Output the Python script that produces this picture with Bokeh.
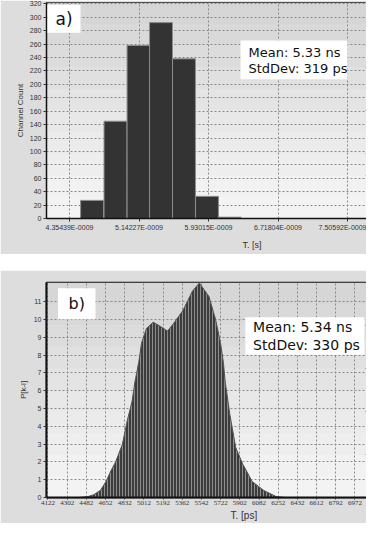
from bokeh.plotting import figure
from bokeh.layouts import column
from bokeh.models import FixedTicker, Label, BoxAnnotation, Title
from bokeh.embed import file_html
from bokeh.resources import INLINE

# ---------------- data: panel a) histogram ----------------
bin_centers_ns = [4.610, 4.876, 5.137, 5.392, 5.652, 5.913, 6.168]
bin_counts = [27, 145, 258, 292, 238, 33, 2]
bin_width_ns = 0.26
top_tick_values = [4.35439, 5.14227, 5.93015, 6.71804, 7.50592]
top_tick_labels = ["4.35439E-0009", "5.14227E-0009", "5.93015E-0009",
                   "6.71804E-0009", "7.50592E-0009"]
top_y_ticks = [0, 20, 40, 60, 80, 100, 120, 140, 160, 180, 200, 220, 240,
               260, 280, 300, 320]
top_stats = ["Mean:  5.33 ns", "StdDev: 319 ps"]

# ---------------- data: panel b) distribution ----------------
curve_t_ps = [4412, 4492, 4545, 4608, 4661, 4706, 4750, 4813, 4857, 4902,
              4929, 4964, 4991, 5036, 5098, 5169, 5231, 5284, 5373, 5463,
              5526, 5615, 5677, 5722, 5749, 5766, 5811, 5864, 5927, 6016,
              6123, 6239, 6328]
curve_p = [0.0, 0.05, 0.15, 0.4, 0.9, 1.5, 2.0, 3.0, 4.3, 5.4,
           6.5, 7.6, 8.7, 9.5, 9.85, 9.6, 9.35, 9.75, 10.5, 11.6,
           12.05, 11.3, 10.0, 8.7, 7.6, 6.5, 4.6, 2.8, 1.9, 0.9,
           0.4, 0.05, 0.0]
bottom_tick_values = [4122, 4300, 4478, 4656, 4834, 5012, 5190, 5368, 5546,
                      5724, 5902, 6080, 6258, 6436, 6614, 6792, 6970]
bottom_tick_labels = ["4122", "4302", "4482", "4652", "4832", "5012", "5192",
                      "5362", "5542", "5722", "5902", "6082", "6252", "6432",
                      "6612", "6792", "6972"]
bottom_y_ticks = [0, 1, 2, 3, 4, 5, 6, 7, 8, 9, 10, 11]
bottom_stats = ["Mean:  5.34 ns", "StdDev: 330 ps"]

OUTER = "#dddddd"
GRAD = ["#d6d6d6", "#d9d9d9", "#dcdcdc", "#e0e0e0", "#e4e4e4", "#e8e8e8",
        "#ebebeb", "#eeeeee", "#f1f1f1", "#f3f3f3"]


def gradient(p, ymin, ymax):
    n = len(GRAD)
    step = (ymax - ymin) / n
    for i, c in enumerate(GRAD):
        top = ymax - i * step
        p.add_layout(BoxAnnotation(bottom=top - step, top=top, fill_color=c,
                                   fill_alpha=1.0, line_alpha=0, level="image"))


def style_axes(p, font_size):
    for ax in (p.xaxis[0], p.yaxis[0]):
        ax.axis_line_color = "#111111"
        ax.axis_line_width = 1.5
        ax.major_tick_line_color = "#333333"
        ax.major_tick_out = 3
        ax.major_tick_in = 0
        ax.minor_tick_line_color = None
        ax.major_label_text_font_size = font_size
        ax.major_label_text_color = "#333333"
        ax.major_label_standoff = 2


def xtitle(p, text, offset, size, standoff):
    t = Title(text=text, align="left", offset=offset, text_font_size=size,
              text_font="Liberation Sans", text_font_style="normal",
              text_color="#333333", standoff=standoff)
    p.add_layout(t, "below")


# ---------------- panel a) ----------------
p1 = figure(width=366, height=254, x_range=(4.0937, 7.7211), y_range=(0, 322),
            output_backend="svg", toolbar_location=None,
            min_border_left=46, min_border_right=0, min_border_top=2,
            min_border_bottom=35, border_fill_color=OUTER,
            background_fill_color="#e8e8e8", outline_line_color="#222222")
gradient(p1, 0, 322)
p1.xaxis.ticker = FixedTicker(ticks=top_tick_values)
p1.xaxis.major_label_overrides = dict(zip(top_tick_values, top_tick_labels))
p1.yaxis.ticker = FixedTicker(ticks=top_y_ticks)
p1.xgrid.ticker = FixedTicker(ticks=top_tick_values)
p1.ygrid.ticker = FixedTicker(ticks=top_y_ticks)
for g in (p1.xgrid[0], p1.ygrid[0]):
    g.grid_line_color = "#8a8a8a"
    g.grid_line_dash = "2 2"
    g.grid_line_width = 1
style_axes(p1, "7px")
p1.xaxis.major_label_text_font = "Liberation Sans"
p1.yaxis.major_label_text_font = "Liberation Sans"
p1.yaxis.axis_label = "Channel Count"
p1.yaxis.axis_label_text_font = "Liberation Sans"
p1.yaxis.axis_label_text_font_size = "8px"
p1.yaxis.axis_label_text_font_style = "normal"
p1.yaxis.axis_label_text_color = "#333333"
p1.yaxis.axis_label_standoff = 2
xtitle(p1, "T. [s]", 196, "9px", 9)

p1.vbar(x=bin_centers_ns, top=bin_counts, width=bin_width_ns,
        fill_color="#333333", line_color="#8c8c8c", line_width=1)

p1.add_layout(BoxAnnotation(left=4.105, right=4.479, bottom=277, top=318.5,
                            fill_color="white", fill_alpha=1, line_alpha=0))
p1.add_layout(Label(x=4.292, y=297.8, text="a)", text_align="center",
                    text_baseline="middle", text_font_size="17px",
                    text_font="DejaVu Sans", text_color="#111111"))
p1.add_layout(BoxAnnotation(left=6.293, right=7.506, bottom=207.4, top=265.2,
                            fill_color="white", fill_alpha=1, line_alpha=0))
p1.add_layout(Label(x=6.383, y=247.4, text=top_stats[0], text_align="left",
                    text_baseline="middle", text_font_size="13px",
                    text_font="DejaVu Sans", text_color="#111111"))
p1.add_layout(Label(x=6.383, y=223.7, text=top_stats[1], text_align="left",
                    text_baseline="middle", text_font_size="13px",
                    text_font="DejaVu Sans", text_color="#111111"))

# ---------------- panel b) ----------------
p2 = figure(width=366, height=253, x_range=(4108.6, 7076.7), y_range=(0, 12.08),
            output_backend="svg", toolbar_location=None,
            min_border_left=36, min_border_right=0, min_border_top=12,
            min_border_bottom=26, border_fill_color=OUTER,
            background_fill_color="#e8e8e8", outline_line_color="#111111",
            outline_line_width=1.5)
gradient(p2, 0, 12.08)
p2.xaxis.ticker = FixedTicker(ticks=bottom_tick_values)
p2.xaxis.major_label_overrides = dict(zip(bottom_tick_values, bottom_tick_labels))
p2.yaxis.ticker = FixedTicker(ticks=bottom_y_ticks)
p2.xgrid.ticker = FixedTicker(ticks=bottom_tick_values)
p2.ygrid.ticker = FixedTicker(ticks=bottom_y_ticks)
for g in (p2.xgrid[0], p2.ygrid[0]):
    g.grid_line_color = "#8a8a8a"
    g.grid_line_dash = "2 2"
    g.grid_line_width = 1
style_axes(p2, "7px")
p2.xaxis.axis_line_width = 2
p2.yaxis.axis_line_width = 2
p2.xaxis.major_tick_out = 2
p2.xaxis.major_label_standoff = 1
p2.xaxis.major_label_text_font = "Liberation Sans Narrow"
p2.yaxis.major_label_text_font = "Liberation Sans"
p2.yaxis.axis_label = "P[k-l]"
p2.yaxis.axis_label_text_font = "Liberation Sans"
p2.yaxis.axis_label_text_font_size = "8px"
p2.yaxis.axis_label_text_font_style = "normal"
p2.yaxis.axis_label_text_color = "#333333"
p2.yaxis.axis_label_standoff = 3
xtitle(p2, "T. [ps]", 184, "10px", 0)

p2.varea(x=curve_t_ps, y1=0, y2=curve_p, fill_color="#3c3c3c",
         hatch_pattern="vertical_line", hatch_color="#8c8c8c",
         hatch_scale=3, hatch_weight=1)
p2.line(x=curve_t_ps, y=curve_p, line_color="#555555", line_width=1)

p2.add_layout(BoxAnnotation(left=4215.6, right=4563, bottom=10.02, top=11.75,
                            fill_color="white", fill_alpha=1, line_alpha=0))
p2.add_layout(Label(x=4389, y=10.89, text="b)", text_align="center",
                    text_baseline="middle", text_font_size="16px",
                    text_font="DejaVu Sans", text_color="#111111"))
p2.add_layout(BoxAnnotation(left=5953, right=7058, bottom=8.02, top=10.13,
                            fill_color="white", fill_alpha=1, line_alpha=0))
p2.add_layout(Label(x=6025, y=9.58, text=bottom_stats[0], text_align="left",
                    text_baseline="middle", text_font_size="14px",
                    text_font="DejaVu Sans", text_color="#111111"))
p2.add_layout(Label(x=6025, y=8.57, text=bottom_stats[1], text_align="left",
                    text_baseline="middle", text_font_size="14px",
                    text_font="DejaVu Sans", text_color="#111111"))

layout = column(p1, p2, spacing=16)

with open("out.html", "w") as f:
    f.write(file_html(layout, INLINE))
